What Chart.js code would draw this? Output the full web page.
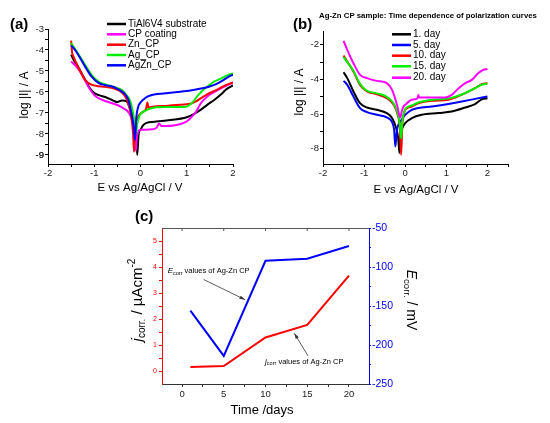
<!DOCTYPE html>
<html>
<head>
<meta charset="utf-8">
<script src="https://cdn.jsdelivr.net/npm/chart.js@4.4.1/dist/chart.umd.min.js"></script>
<style>
  html, body { margin: 0; padding: 0; background: #fff; }
  #wrap { position: relative; width: 550px; height: 423px; }
  #wrap canvas { position: absolute; left: 0; top: 0; }
</style>
</head>
<body>
<div id="wrap">
  <canvas id="chartA" width="550" height="423"></canvas>
  <canvas id="chartB" width="550" height="423"></canvas>
  <canvas id="chartC" width="550" height="423"></canvas>
</div>
<script>
// (a) polarization curves of the coatings, E in V, log|I| in A
const tiE = [-1.5, -1.45, -1.35, -1.2, -1.1, -1.0, -0.9, -0.75, -0.6, -0.5, -0.4, -0.3, -0.22, -0.15, -0.1, -0.07, -0.04, 0.0, 0.05, 0.13, 0.3, 0.6, 1.0, 1.15, 1.3, 1.45, 1.6, 1.75, 1.85, 2.0];
const tiLog = [-4.22, -4.45, -4.8, -5.4, -5.8, -6.05, -6.15, -6.25, -6.4, -6.48, -6.4, -6.45, -6.8, -7.3, -7.9, -9.0, -8.0, -7.8, -7.6, -7.47, -7.42, -7.35, -7.2, -7.05, -6.85, -6.6, -6.37, -6.1, -5.88, -5.68];
const cpE = [-1.5, -1.4, -1.3, -1.2, -1.1, -1.0, -0.9, -0.7, -0.5, -0.35, -0.25, -0.17, -0.12, -0.1, -0.08, -0.04, 0.0, 0.1, 0.25, 0.35, 0.4, 0.45, 0.55, 0.75, 0.9, 1.0, 1.1, 1.2, 1.3, 1.45, 1.6, 1.75, 1.9, 2.0];
const cpLog = [-4.55, -4.75, -5.05, -5.45, -5.85, -6.15, -6.3, -6.48, -6.62, -6.8, -7.0, -7.4, -7.9, -8.8, -8.2, -7.85, -7.8, -7.8, -7.78, -7.7, -7.5, -7.62, -7.62, -7.58, -7.5, -7.4, -7.2, -6.95, -6.55, -6.2, -6.0, -5.82, -5.65, -5.55];
const znE = [-1.5, -1.48, -1.45, -1.35, -1.2, -1.06, -0.9, -0.63, -0.45, -0.35, -0.28, -0.2, -0.16, -0.14, -0.12, -0.08, -0.03, 0.05, 0.12, 0.15, 0.17, 0.25, 0.6, 1.0, 1.1, 1.2, 1.3, 1.45, 1.6, 1.8, 2.0];
const znLog = [-3.55, -4.1, -4.3, -4.8, -5.42, -5.65, -5.73, -5.8, -5.95, -6.15, -6.45, -7.2, -8.0, -8.85, -8.0, -7.4, -7.1, -6.95, -6.8, -6.5, -6.75, -6.7, -6.65, -6.58, -6.55, -6.45, -6.3, -6.1, -5.95, -5.72, -5.55];
const agE = [-1.5, -1.4, -1.3, -1.2, -1.06, -0.91, -0.75, -0.63, -0.5, -0.41, -0.3, -0.22, -0.16, -0.12, -0.1, -0.07, -0.03, 0.0, 0.1, 0.2, 0.35, 0.6, 0.95, 1.1, 1.23, 1.38, 1.5, 1.6, 1.72, 1.82, 1.92, 2.0];
const agLog = [-3.67, -4.0, -4.35, -4.7, -5.18, -5.5, -5.65, -5.73, -5.82, -5.9, -6.15, -6.45, -7.0, -7.6, -8.0, -7.5, -7.2, -7.05, -6.9, -6.8, -6.73, -6.72, -6.72, -6.55, -6.2, -5.85, -5.65, -5.5, -5.38, -5.27, -5.17, -5.12];
const agznE = [-1.5, -1.4, -1.3, -1.2, -1.06, -0.91, -0.75, -0.63, -0.5, -0.41, -0.3, -0.25, -0.19, -0.15, -0.12, -0.09, -0.05, 0.0, 0.05, 0.15, 0.3, 0.5, 0.8, 1.0, 1.2, 1.4, 1.55, 1.7, 1.8, 1.9, 2.0];
const agznLog = [-3.78, -4.05, -4.4, -4.78, -5.26, -5.57, -5.68, -5.73, -5.85, -5.97, -6.2, -6.45, -7.1, -7.6, -8.3, -7.2, -6.7, -6.5, -6.38, -6.22, -6.12, -6.07, -6.0, -5.95, -5.88, -5.8, -5.7, -5.55, -5.42, -5.28, -5.18];
const labelsA = ['TiAl6V4 substrate', 'CP coating', 'Zn_CP', 'Ag_CP', 'AgZn_CP'];

// (b) Ag-Zn CP sample after 1..20 days
const d1E = [-1.5, -1.41, -1.26, -1.1, -0.93, -0.69, -0.45, -0.32, -0.22, -0.17, -0.14, -0.11, -0.07, 0.0, 0.16, 0.4, 0.81, 1.13, 1.46, 1.7, 1.86, 2.0];
const d1Log = [-3.58, -3.92, -4.69, -5.37, -5.62, -5.75, -5.94, -6.23, -6.81, -7.4, -8.25, -7.2, -6.8, -6.52, -6.23, -6.04, -5.94, -5.85, -5.62, -5.42, -5.15, -5.08];
const d5E = [-1.5, -1.41, -1.26, -1.1, -0.93, -0.69, -0.45, -0.32, -0.27, -0.24, -0.2, -0.15, -0.08, 0.0, 0.16, 0.32, 0.65, 1.05, 1.38, 1.7, 2.0];
const d5Log = [-4.08, -4.31, -4.98, -5.65, -5.88, -6.04, -6.19, -6.46, -6.9, -7.87, -6.9, -6.55, -6.3, -6.04, -5.75, -5.65, -5.56, -5.42, -5.27, -5.12, -4.98];
const d10E = [-1.5, -1.41, -1.26, -1.1, -0.93, -0.69, -0.45, -0.28, -0.19, -0.13, -0.1, -0.07, -0.03, 0.0, 0.16, 0.32, 0.65, 1.05, 1.22, 1.46, 1.7, 1.86, 2.0];
const d10Log = [-2.61, -2.96, -3.54, -4.31, -4.69, -4.85, -5.08, -5.46, -6.0, -6.8, -8.35, -6.6, -6.0, -5.75, -5.56, -5.37, -5.23, -5.17, -5.04, -4.79, -4.5, -4.27, -4.21];
const d15E = [-1.5, -1.41, -1.26, -1.1, -0.93, -0.69, -0.45, -0.28, -0.19, -0.13, -0.1, -0.07, -0.03, 0.0, 0.16, 0.32, 0.65, 1.05, 1.22, 1.46, 1.7, 1.86, 2.0];
const d15Log = [-2.7, -3.0, -3.5, -4.25, -4.65, -4.8, -5.0, -5.38, -5.9, -6.6, -7.4, -6.4, -5.9, -5.7, -5.5, -5.33, -5.18, -5.1, -5.0, -4.78, -4.5, -4.3, -4.25];
const d20E = [-1.5, -1.41, -1.26, -1.1, -0.93, -0.69, -0.45, -0.32, -0.2, -0.12, -0.08, -0.04, 0.0, 0.16, 0.3, 0.32, 0.34, 0.49, 0.97, 1.13, 1.3, 1.46, 1.62, 1.78, 1.9, 2.0];
const d20Log = [-1.77, -2.29, -3.06, -3.73, -3.92, -4.08, -4.21, -4.6, -5.46, -6.2, -5.8, -5.56, -5.46, -5.17, -5.08, -4.9, -5.04, -5.04, -5.04, -4.89, -4.5, -4.21, -4.02, -3.63, -3.44, -3.39];
const labelsB = ['1. day', '5. day', '10. day', '15. day', '20. day'];

// (c) corrosion current and potential vs time
const days = [1, 5, 10, 15, 20];
const jcorr = [0.15, 0.19, 1.29, 1.77, 3.67];
const ecorr = [-156, -214, -92, -89.5, -73];

const FF = "'Liberation Sans', Arial, Helvetica, sans-serif";
const colorsAB = ['#000000', '#ff00ff', '#ff0000', '#00ee00', '#0000ff'];
const colorsB = ['#000000', '#0000ff', '#ff0000', '#00ee00', '#ff00ff'];

function pts(xs, ys) {
  return xs.map((v, i) => ({ x: v, y: ys[i] }));
}

// text made of pieces (for subscripts / italics), centred or left aligned
function drawRich(ctx, parts, x, y, rot, align, color) {
  ctx.save();
  ctx.translate(x, y);
  ctx.rotate(rot || 0);
  let w = 0;
  parts.forEach(p => { ctx.font = p.font; p.w = ctx.measureText(p.t).width; w += p.w; });
  let cx = align === 'left' ? 0 : -w / 2;
  ctx.textBaseline = 'middle';
  ctx.textAlign = 'left';
  ctx.fillStyle = color || '#000';
  parts.forEach(p => {
    ctx.font = p.font;
    ctx.fillText(p.t, cx, p.dy || 0);
    cx += p.w;
  });
  ctx.restore();
}

function axis(o) {
  const all = o.majors.concat(o.minors).sort((a, b) => a - b);
  return {
    type: 'linear',
    position: o.position,
    min: o.min,
    max: o.max,
    afterBuildTicks: s => { s.ticks = all.map(v => ({ value: v })); },
    afterFit: s => {
      if (s.isHorizontal()) s.height = o.size; else s.width = o.size;
    },
    ticks: {
      autoSkip: false,
      maxRotation: 0,
      padding: o.pad,
      color: o.tickColor || '#222',
      font: { family: FF, size: o.font },
      callback: v => (o.majors.includes(v) ? String(v) : '')
    },
    grid: {
      drawOnChartArea: false,
      drawTicks: true,
      tickLength: o.tickLen || 3,
      tickColor: o.color || '#000'
    },
    border: { display: true, color: o.color || '#000', width: 1 }
  };
}

function legendBox(ctx, chart, x0, ys) {
  chart.data.datasets.forEach((ds, i) => {
    ctx.strokeStyle = ds.borderColor;
    ctx.lineWidth = 2.5;
    ctx.beginPath();
    ctx.moveTo(x0, ys[i]);
    ctx.lineTo(x0 + 19, ys[i]);
    ctx.stroke();
    ctx.fillStyle = '#000';
    ctx.font = '10px ' + FF;
    ctx.textBaseline = 'middle';
    ctx.textAlign = 'left';
    ctx.fillText(ds.label, x0 + 21, ys[i]);
  });
}

function curveSet(list, labels, colors) {
  return list.map((p, i) => ({
    label: labels[i],
    data: pts(p[0], p[1]),
    borderColor: colors[i],
    borderWidth: 2,
    pointRadius: 0,
    cubicInterpolationMode: 'monotone',
    order: list.length - i
  }));
}

const baseOpts = {
  responsive: false,
  animation: false,
  events: [],
  plugins: { legend: { display: false }, tooltip: { enabled: false } }
};

// ---------- (a)
new Chart(document.getElementById('chartA'), {
  type: 'line',
  data: {
    datasets: curveSet([[tiE, tiLog], [cpE, cpLog], [znE, znLog], [agE, agLog], [agznE, agznLog]], labelsA, colorsAB)
  },
  options: Object.assign({}, baseOpts, {
    layout: { padding: { left: 0, top: 29, right: 317, bottom: 214 } },
    scales: {
      x: axis({ min: -2, max: 2, majors: [-2, -1, 0, 1, 2], minors: [-1.5, -0.5, 0.5, 1.5], size: 45, font: 9.5, pad: 1 }),
      y: axis({ min: -9.43, max: -3, majors: [-3, -4, -5, -6, -7, -8, -9], minors: [-3.5, -4.5, -5.5, -6.5, -7.5, -8.5, -9], size: 48, font: 9.5, pad: 1 })
    }
  }),
  plugins: [{
    id: 'decorA',
    afterDraw(chart) {
      const ctx = chart.ctx;
      drawRich(ctx, [{ t: '(a)', font: 'bold 15px ' + FF }], 10, 25, 0, 'left');
      drawRich(ctx, [{ t: 'log |I| / A', font: '12px ' + FF }], 25, 95, -Math.PI / 2);
      drawRich(ctx, [{ t: 'E vs Ag/AgCl / V', font: '11.5px ' + FF }], 140, 188, 0);
      legendBox(ctx, chart, 107, [24, 34.3, 44.7, 55, 65.3]);
    }
  }]
});

// ---------- (b)
new Chart(document.getElementById('chartB'), {
  type: 'line',
  data: {
    datasets: curveSet([[d1E, d1Log], [d5E, d5Log], [d10E, d10Log], [d15E, d15Log], [d20E, d20Log]], labelsB, colorsB)
  },
  options: Object.assign({}, baseOpts, {
    layout: { padding: { left: 275, top: 31, right: 42, bottom: 214 } },
    scales: {
      x: axis({ min: -2, max: 2.5, majors: [-2, -1, 0, 1, 2], minors: [-1.5, -0.5, 0.5, 1.5, 2.5], size: 45, font: 9.5, pad: 1 }),
      y: axis({ min: -8.88, max: -1.2, majors: [-2, -4, -6, -8], minors: [-3, -5, -7], size: 48, font: 9.5, pad: 1 })
    }
  }),
  plugins: [{
    id: 'decorB',
    afterDraw(chart) {
      const ctx = chart.ctx;
      drawRich(ctx, [{ t: 'Ag-Zn CP sample: Time dependence of polarization curves', font: 'bold 7.8px ' + FF }], 428, 16, 0);
      drawRich(ctx, [{ t: '(b)', font: 'bold 15px ' + FF }], 293, 25, 0, 'left');
      drawRich(ctx, [{ t: 'log |I| / A', font: '12px ' + FF }], 300, 92, -Math.PI / 2);
      drawRich(ctx, [{ t: 'E vs Ag/AgCl / V', font: '11.5px ' + FF }], 416, 190, 0);
      legendBox(ctx, chart, 392, [34.3, 45, 55.7, 66.3, 77.7]);
    }
  }]
});

// ---------- (c)
function arrow(ctx, x1, y1, x2, y2) {
  const a = Math.atan2(y2 - y1, x2 - x1);
  ctx.strokeStyle = '#333';
  ctx.fillStyle = '#333';
  ctx.lineWidth = 0.8;
  ctx.beginPath();
  ctx.moveTo(x1, y1);
  ctx.lineTo(x2, y2);
  ctx.stroke();
  ctx.beginPath();
  ctx.moveTo(x2, y2);
  ctx.lineTo(x2 - 6 * Math.cos(a - 0.3), y2 - 6 * Math.sin(a - 0.3));
  ctx.lineTo(x2 - 6 * Math.cos(a + 0.3), y2 - 6 * Math.sin(a + 0.3));
  ctx.closePath();
  ctx.fill();
}

new Chart(document.getElementById('chartC'), {
  type: 'line',
  data: {
    datasets: [
      { label: 'jcorr', data: pts(days, jcorr), yAxisID: 'yL', borderColor: '#ff0000', borderWidth: 2, pointRadius: 0, tension: 0 },
      { label: 'Ecorr', data: pts(days, ecorr), yAxisID: 'yR', borderColor: '#0000ff', borderWidth: 2, pointRadius: 0, tension: 0 }
    ]
  },
  options: Object.assign({}, baseOpts, {
    layout: { padding: { left: 132, top: 228, right: 141, bottom: 9 } },
    scales: {
      x: axis({ min: -2.4, max: 22.4, majors: [0, 5, 10, 15, 20], minors: [-2.5, 2.5, 7.5, 12.5, 17.5, 22.5].filter(v => v > -2.4 && v < 22.4), size: 30, font: 9.5, pad: 2, color: '#333' }),
      yL: axis({ position: 'left', min: -0.5, max: 5.5, majors: [0, 1, 2, 3, 4, 5], minors: [0.5, 1.5, 2.5, 3.5, 4.5], size: 30, font: 7, pad: 2, color: '#ff0000', tickColor: '#ff0000' }),
      yR: axis({ position: 'right', min: -250, max: -50, majors: [-50, -100, -150, -200, -250], minors: [-75, -125, -175, -225], size: 40, font: 10.5, pad: 1, tickLen: 2, color: '#0000ff', tickColor: '#0000ff' })
    }
  }),
  plugins: [{
    id: 'decorC',
    afterDraw(chart) {
      const ctx = chart.ctx;
      const a = chart.chartArea;
      const sx = chart.scales.x, sy = chart.scales.yL;
      // top frame line with small ticks
      ctx.strokeStyle = '#555';
      ctx.lineWidth = 1;
      ctx.beginPath();
      ctx.moveTo(a.left, a.top + 0.5);
      ctx.lineTo(a.right, a.top + 0.5);
      [0, 5, 10, 15, 20].forEach(v => {
        const px = sx.getPixelForValue(v);
        ctx.moveTo(px, a.top);
        ctx.lineTo(px, a.top + 3);
      });
      ctx.stroke();

      drawRich(ctx, [{ t: '(c)', font: 'bold 15px ' + FF }], 135, 217, 0, 'left');
      drawRich(ctx, [
        { t: 'j', font: 'italic 15px ' + FF },
        { t: 'corr.', font: '10px ' + FF, dy: 4 },
        { t: ' / \u00b5Acm', font: '15px ' + FF },
        { t: '-2', font: '10px ' + FF, dy: -6 }
      ], 138, 300, -Math.PI / 2);
      drawRich(ctx, [
        { t: 'E', font: 'italic 14px ' + FF },
        { t: 'corr.', font: '9.5px ' + FF, dy: 4 },
        { t: ' / mV', font: '14px ' + FF }
      ], 411, 300, Math.PI / 2);
      drawRich(ctx, [{ t: 'Time /days', font: '13px ' + FF }], 262, 410, 0);

      // annotations, anchored in data units of x / left axis
      drawRich(ctx, [
        { t: 'E', font: 'italic 8px ' + FF },
        { t: 'corr', font: '5.5px ' + FF, dy: 2 },
        { t: ' values of Ag-Zn CP', font: '7.5px ' + FF }
      ], sx.getPixelForValue(-1.72), sy.getPixelForValue(3.84), 0, 'left');
      drawRich(ctx, [
        { t: 'j', font: 'italic 8px ' + FF },
        { t: 'corr', font: '5.5px ' + FF, dy: 2 },
        { t: ' values of Ag-Zn CP', font: '7.5px ' + FF }
      ], sx.getPixelForValue(9.95), sy.getPixelForValue(0.35), 0, 'left');
      arrow(ctx, sx.getPixelForValue(2.58), sy.getPixelForValue(3.52), sx.getPixelForValue(7.56), sy.getPixelForValue(2.74));
      arrow(ctx, sx.getPixelForValue(15.1), sy.getPixelForValue(0.58), sx.getPixelForValue(13.45), sy.getPixelForValue(1.45));
    }
  }]
});
</script>
</body>
</html>
